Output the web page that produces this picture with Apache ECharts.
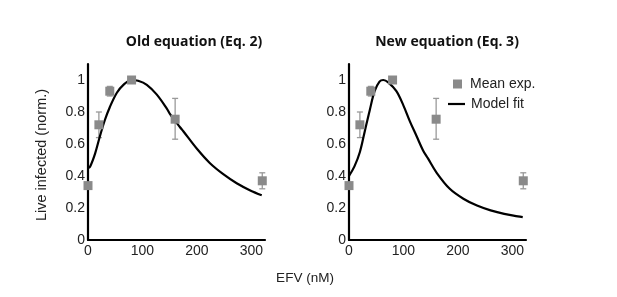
<!DOCTYPE html>
<html>
<head>
<meta charset="utf-8">
<script src="https://cdn.jsdelivr.net/npm/echarts@6/dist/echarts.min.js"></script>
<style>
html,body{margin:0;padding:0;background:#fff;}
#chart{width:617px;height:297px;}
</style>
</head>
<body>
<div id="chart"></div>
<script>
// Experimental data (same in both panels)
const expX = [0, 20, 40, 80, 160, 320];
const expMean = [0.34, 0.72, 0.93, 1.0, 0.755, 0.37];
const expLow = [0.34, 0.64, 0.90, 1.0, 0.63, 0.32];
const expHigh = [0.34, 0.80, 0.96, 1.0, 0.885, 0.42];

// Old equation (Eq. 2) model fit
const oldX = [0, 4, 13, 22, 31, 40, 53, 65, 80, 92, 108, 126, 145, 151, 169, 175, 200, 224, 249, 273, 298, 319];
const oldY = [0.45, 0.46, 0.54, 0.65, 0.75, 0.83, 0.92, 0.97, 1.0, 0.995, 0.97, 0.91, 0.82, 0.785, 0.705, 0.68, 0.57, 0.48, 0.41, 0.355, 0.31, 0.28];

// New equation (Eq. 3) model fit
const newX = [0, 10, 20, 29, 38, 47, 56, 63, 72, 87, 100, 112, 124, 136, 145, 161, 185, 210, 235, 260, 285, 310, 319];
const newY = [0.40, 0.46, 0.55, 0.68, 0.81, 0.93, 0.99, 1.0, 0.985, 0.93, 0.84, 0.74, 0.65, 0.56, 0.51, 0.42, 0.32, 0.258, 0.215, 0.185, 0.163, 0.148, 0.143];

const titles = ['Old equation (Eq. 2)', 'New equation (Eq. 3)'];
const yTicks = [0, 0.2, 0.4, 0.6, 0.8, 1];
const xTicks = [0, 100, 200, 300];

const GRAY = '#8a8a8a';
const chart = echarts.init(document.getElementById('chart'), null, {renderer: 'canvas'});

const zip = (a, b) => a.map((v, i) => [v, b[i]]);
const errData = expX.map((x, i) => [x, expLow[i], expHigh[i]]);

function errRender(params, api) {
  const x = api.value(0), lo = api.value(1), hi = api.value(2);
  if (hi - lo < 0.001) return null;
  const p1 = api.coord([x, lo]), p2 = api.coord([x, hi]);
  const w = 3;
  const st = {stroke: '#999', lineWidth: 1.3};
  return {type: 'group', children: [
    {type: 'line', shape: {x1: p1[0], y1: p1[1], x2: p2[0], y2: p2[1]}, style: st},
    {type: 'line', shape: {x1: p1[0] - w, y1: p1[1], x2: p1[0] + w, y2: p1[1]}, style: st},
    {type: 'line', shape: {x1: p2[0] - w, y1: p2[1], x2: p2[0] + w, y2: p2[1]}, style: st}
  ]};
}

const grids = [
  {left: 88, right: 617 - 265, top: 64, bottom: 297 - 240},
  {left: 349, right: 617 - 526, top: 64, bottom: 297 - 240}
];

const axisFont = {color: '#222', fontSize: 14, fontFamily: 'Liberation Sans, Arial, sans-serif'};

const xAxes = grids.map((g, i) => ({
  type: 'value', gridIndex: i, min: 0, max: 325, interval: 100,
  axisLine: {show: true, onZero: false, lineStyle: {color: '#000', width: 2.2}},
  axisTick: {show: false}, splitLine: {show: false},
  axisLabel: Object.assign({margin: 4, showMaxLabel: false,
    formatter: v => xTicks.includes(v) ? String(v) : ''}, axisFont)
}));
const yAxes = grids.map((g, i) => ({
  type: 'value', gridIndex: i, min: 0, max: 1.1, interval: 0.2,
  axisLine: {show: true, onZero: false, lineStyle: {color: '#000', width: 2.2}},
  axisTick: {show: false}, splitLine: {show: false},
  axisLabel: Object.assign({margin: 3, showMaxLabel: false,
    formatter: v => {
      const t = yTicks.find(k => Math.abs(k - v) < 1e-6);
      return t === undefined ? '' : String(t);
    }}, axisFont)
}));

const series = [];
[[oldX, oldY], [newX, newY]].forEach((m, i) => {
  series.push({
    type: 'custom', name: 'err' + i, xAxisIndex: i, yAxisIndex: i,
    renderItem: errRender, data: errData, z: 2, silent: true
  });
  series.push({
    type: 'line', name: 'Model fit', xAxisIndex: i, yAxisIndex: i,
    data: zip(m[0], m[1]), smooth: 0.35, showSymbol: false,
    lineStyle: {color: '#000', width: 2.2}, itemStyle: {color: '#000'}, z: 3
  });
  series.push({
    type: 'scatter', name: 'Mean exp.', xAxisIndex: i, yAxisIndex: i,
    data: zip(expX, expMean), symbol: 'rect', symbolSize: 9,
    itemStyle: {color: GRAY, opacity: 1}, z: 4
  });
});

const option = {
  backgroundColor: '#fff',
  animation: false,
  grid: grids,
  xAxis: xAxes,
  yAxis: yAxes,
  title: [
    {text: titles[0], left: 189, top: 30, textAlign: 'center',
      textStyle: {fontSize: 14, fontWeight: 'bold', color: '#111', fontFamily: 'Open Sans, sans-serif'}},
    {text: titles[1], left: 442, top: 30, textAlign: 'center',
      textStyle: {fontSize: 14, fontWeight: 'bold', color: '#111', fontFamily: 'Open Sans, sans-serif'}}
  ],
  legend: [
    {data: [{name: 'Mean exp.', icon: 'rect'}], orient: 'vertical', left: 453, top: 77, padding: 0,
      itemWidth: 9, itemHeight: 9, selectedMode: false,
      textStyle: {fontSize: 14, color: '#222', fontFamily: 'Liberation Sans, Arial, sans-serif', padding: [0, 0, 0, 3]}},
    {data: [{name: 'Model fit', icon: 'rect'}], orient: 'vertical', left: 448, top: 97, padding: 0,
      itemWidth: 17, itemHeight: 2.2, selectedMode: false,
      textStyle: {fontSize: 14, color: '#222', fontFamily: 'Liberation Sans, Arial, sans-serif', padding: [0, 0, 0, 1]}}
  ],
  graphic: [
    {type: 'text', x: 42, y: 155, rotation: Math.PI / 2,
      style: {text: 'Live infected (norm.)', fontSize: 14.5, fill: '#222',
        fontFamily: 'Liberation Sans, Arial, sans-serif', textAlign: 'center', textVerticalAlign: 'middle'}},
    {type: 'text', x: 305, y: 278,
      style: {text: 'EFV (nM)', fontSize: 13.5, fill: '#222',
        fontFamily: 'Liberation Sans, Arial, sans-serif', textAlign: 'center', textVerticalAlign: 'middle'}}
  ],
  series: series
};
chart.setOption(option);
</script>
</body>
</html>
